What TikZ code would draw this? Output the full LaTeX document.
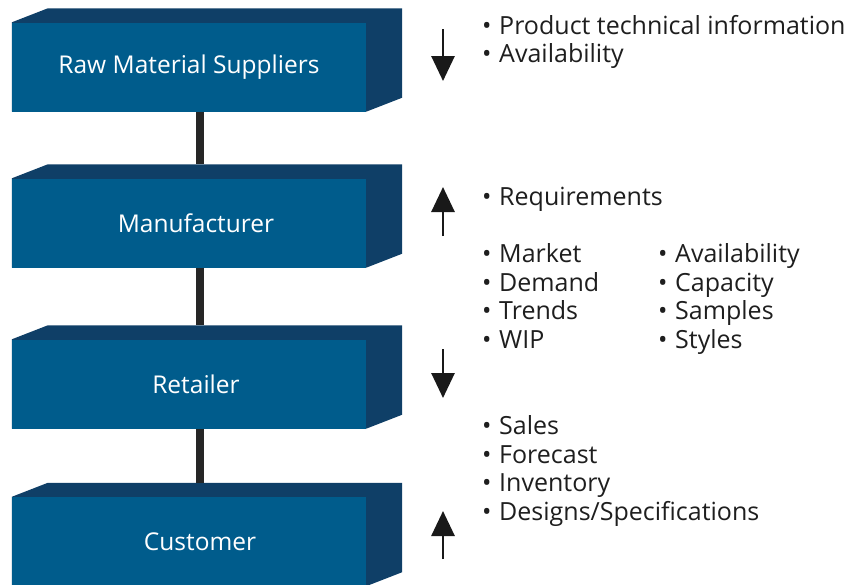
\documentclass[tikz,border=0pt]{standalone}
\usepackage{fontspec}
\setmainfont{Open Sans}
\usetikzlibrary{arrows.meta,calc}
\pgfdeclarelayer{back}
\pgfsetlayers{back,main}
\definecolor{frontblue}{RGB}{0,92,140}
\definecolor{shadeblue}{RGB}{15,63,103}
\definecolor{inktext}{RGB}{30,30,30}
\tikzset{
  stage/.style={rectangle, fill=frontblue, inner sep=0pt,
    minimum width=354pt, minimum height=89pt},
  stagetext/.style={text=white, inner sep=0pt, font=\fontsize{24.5}{28}\selectfont},
  link/.style={draw=black!85, line width=8pt},
  flow/.style={draw=black!90, line width=2.8pt, -{Triangle[length=25pt,width=23pt]}},
  items/.style={anchor=north west, inner sep=0pt, align=left, text=inktext,
    font=\fontsize{25}{28.6}\selectfont},
}
% bullet followed by a fixed gap
\newcommand{\itm}{\makebox[17pt][l]{\textbullet}}
% dark solid behind a stage: front area, top face and right face
\newcommand{\depthfaces}[1]{%
  \fill[shadeblue] (#1.south west) -- (#1.north west) -- ++(36,-14)
    -- ($(#1.north east)+(36,-14)$) -- ($(#1.south east)+(36,-14)$)
    -- (#1.south east) -- cycle;}
\begin{document}
\begin{tikzpicture}[x=1pt,y=-1pt]
\useasboundingbox (0,0) rectangle (848,584);

% front faces of the four stages
\node[stage, label={[stagetext]center:Raw Material Suppliers}] (raw) at (189,67) {};
\node[stage, label={[stagetext, xshift=7pt]center:Manufacturer}] (man) at (189,223) {};
\node[stage, label={[stagetext, xshift=7pt]center:Retailer}] (ret) at (189,384) {};
\node[stage, label={[stagetext, xshift=11pt]center:Customer}] (cus) at (189,541.5) {};

% top and side faces
\begin{pgfonlayer}{back}
\depthfaces{raw}
\depthfaces{man}
\depthfaces{ret}
\depthfaces{cus}
\end{pgfonlayer}

% links between stages
\draw[link] ([xshift=11pt]raw.south) -- ([xshift=11pt,yshift=14pt]man.north);
\draw[link] ([xshift=11pt]man.south) -- ([xshift=11pt,yshift=14pt]ret.north);
\draw[link] ([xshift=11pt]ret.south) -- ([xshift=11pt,yshift=14pt]cus.north);

% direction of information flow
\coordinate (a1s) at (443,29);  \coordinate (a1e) at (443,81);
\coordinate (a2s) at (443,236); \coordinate (a2e) at (443,187);
\coordinate (a3s) at (443,349); \coordinate (a3e) at (443,398);
\coordinate (a4s) at (443,559); \coordinate (a4e) at (443,511);
\draw[flow] (a1s) -- (a1e);
\draw[flow] (a2s) -- (a2e);
\draw[flow] (a3s) -- (a3e);
\draw[flow] (a4s) -- (a4e);

% exchanged information
\node[items] (l1) at (482,14) {\strut\itm Product technical information\\\itm Availability};
\node[items] (l2) at (482,185) {\strut\itm Requirements};
\node[items] (l3) at (482,242.3) {\strut\itm Market\\\itm Demand\\\itm Trends\\\itm WIP};
\node[items] (l4) at (658,242.3) {\strut\itm Availability\\\itm Capacity\\\itm Samples\\\itm Styles};
\node[items] (l5) at (482,414.3) {\strut\itm Sales\\\itm Forecast\\\itm Inventory\\\itm Designs/Specifications};
\end{tikzpicture}
\end{document}
